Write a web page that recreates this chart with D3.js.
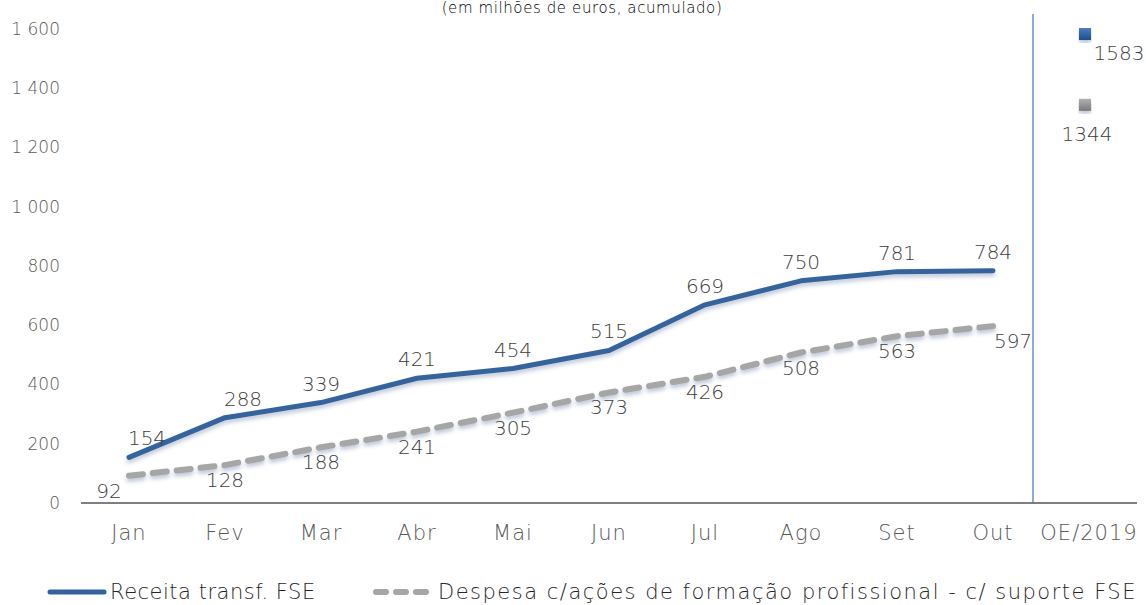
<!DOCTYPE html>
<html>
<head>
<meta charset="utf-8">
<script src="https://cdn.jsdelivr.net/npm/d3@7"></script>
<style>
  body { margin: 0; background: #fff; }
  svg { display: block; font-family: 'DejaVu Sans', sans-serif; }
</style>
</head>
<body>
<svg id="chart" width="1146" height="605"></svg>
<script>
const categories = ['Jan', 'Fev', 'Mar', 'Abr', 'Mai', 'Jun', 'Jul', 'Ago', 'Set', 'Out', 'OE/2019']
const months = categories.slice(0, 10)
const receita = [154, 288, 339, 421, 454, 515, 669, 750, 781, 784]
const despesa = [92, 128, 188, 241, 305, 373, 426, 508, 563, 597]
const budget = [
  { key: 'receita', value: 1583 },
  { key: 'despesa', value: 1344 }
]
const yTicks = [0, 200, 400, 600, 800, 1000, 1200, 1400, 1600]
const seriesNames = ['Receita transf. FSE', 'Despesa c/ações de formação profissional - c/ suporte FSE']

const width = 1146
const height = 605
const margin = { top: 29, right: 9, bottom: 102, left: 81 }
const blue = '#34639b'
const grey = '#a6a6a6'
const textColor = '#404040'

const svg = d3.select('#chart')

const x = d3.scaleBand()
  .domain(categories)
  .range([margin.left, width - margin.right])

const y = d3.scaleLinear()
  .domain([0, 1600])
  .range([height - margin.bottom, margin.top])

const cx = d => x(d) + x.bandwidth() / 2

// shadow under the lines
const defs = svg.append('defs')
const shadow = defs.append('filter').attr('id', 'shadow').attr('x', '-5%').attr('y', '-20%').attr('width', '110%').attr('height', '140%')
shadow.append('feDropShadow').attr('dx', 0).attr('dy', 3).attr('stdDeviation', 2).attr('flood-color', '#6a7fa8').attr('flood-opacity', 0.45)

// title
svg.append('text')
  .attr('x', 582)
  .attr('y', 13)
  .attr('text-anchor', 'middle')
  .attr('font-size', 15)
  .attr('font-weight', 300)
  .attr('letter-spacing', 0.6)
  .attr('fill', '#000')
  .text('(em milhões de euros, acumulado)')

// y axis labels
svg.append('g')
  .selectAll('text')
  .data(yTicks)
  .join('text')
  .attr('x', 60)
  .attr('y', d => y(d))
  .attr('dy', '0.35em')
  .attr('text-anchor', 'end')
  .attr('font-size', 17)
  .attr('font-weight', 300)
  .attr('fill', '#595959')
  .text(d => d3.format(',')(d).replace(',', ' '))

// x axis baseline
svg.append('line')
  .attr('x1', margin.left)
  .attr('x2', width - margin.right)
  .attr('y1', y(0))
  .attr('y2', y(0))
  .attr('stroke', '#000')
  .attr('stroke-width', 1.2)

svg.append('g')
  .selectAll('text')
  .data(categories)
  .join('text')
  .attr('x', d => cx(d))
  .attr('y', y(0) + 37)
  .attr('text-anchor', 'middle')
  .attr('font-size', 21)
  .attr('font-weight', 300)
  .attr('letter-spacing', 1)
  .attr('fill', '#595959')
  .text(d => d)

// separator before budget column
svg.append('line')
  .attr('x1', 1033)
  .attr('x2', 1033)
  .attr('y1', 14)
  .attr('y2', y(0))
  .attr('stroke', '#4472c4')
  .attr('stroke-width', 1.2)

const line = d3.line()
  .x((d, i) => cx(months[i]))
  .y(d => y(d))

svg.append('path')
  .datum(despesa)
  .attr('d', line)
  .attr('fill', 'none')
  .attr('stroke', grey)
  .attr('stroke-width', 6)
  .attr('stroke-dasharray', '14,10')
  .attr('stroke-linecap', 'round')
  .attr('filter', 'url(#shadow)')

svg.append('path')
  .datum(receita)
  .attr('d', line)
  .attr('fill', 'none')
  .attr('stroke', blue)
  .attr('stroke-width', 5)
  .attr('stroke-linecap', 'round')
  .attr('stroke-linejoin', 'round')
  .attr('filter', 'url(#shadow)')

// data labels
svg.append('g')
  .selectAll('text')
  .data(receita)
  .join('text')
  .attr('x', (d, i) => cx(months[i]) + (i < 2 ? 18 : 0))
  .attr('y', d => y(d) - 12)
  .attr('text-anchor', 'middle')
  .attr('font-size', 20)
  .attr('font-weight', 300)
  .attr('fill', textColor)
  .text(d => d)

svg.append('g')
  .selectAll('text')
  .data(despesa)
  .join('text')
  .attr('x', (d, i) => cx(months[i]) + (i === 0 ? -20 : i === 9 ? 20 : 0))
  .attr('y', d => y(d) + 22)
  .attr('text-anchor', 'middle')
  .attr('font-size', 20)
  .attr('font-weight', 300)
  .attr('fill', textColor)
  .text(d => d)

// budget markers
const bx = cx('OE/2019') - 4
const markerColor = { receita: ['#4a7cc0', '#1f4e8c'], despesa: ['#b0b0b0', '#7a7a7a'] }
budget.forEach(b => {
  const g = defs.append('linearGradient').attr('id', 'grad-' + b.key).attr('x1', 0).attr('y1', 0).attr('x2', 0).attr('y2', 1)
  g.append('stop').attr('offset', '0%').attr('stop-color', markerColor[b.key][0])
  g.append('stop').attr('offset', '100%').attr('stop-color', markerColor[b.key][1])
})

svg.append('g')
  .selectAll('rect')
  .data(budget)
  .join('rect')
  .attr('x', bx - 6)
  .attr('y', d => y(d.value) - 6)
  .attr('width', 12)
  .attr('height', 12)
  .attr('fill', d => `url(#grad-${d.key})`)
  .attr('filter', 'url(#shadow)')

svg.append('g')
  .selectAll('text')
  .data(budget)
  .join('text')
  .attr('x', (d, i) => i === 0 ? bx + 34 : bx + 2)
  .attr('y', (d, i) => y(d.value) + (i === 0 ? 26 : 36))
  .attr('text-anchor', 'middle')
  .attr('font-size', 20)
  .attr('font-weight', 300)
  .attr('fill', textColor)
  .text(d => d.value)

// legend
const legendY = 592
const legend = svg.append('g')
legend.append('line')
  .attr('x1', 50).attr('x2', 104)
  .attr('y1', legendY).attr('y2', legendY)
  .attr('stroke', blue).attr('stroke-width', 5).attr('stroke-linecap', 'round')
legend.append('text')
  .attr('x', 110).attr('y', legendY).attr('dy', '0.35em')
  .attr('font-size', 21).attr('font-weight', 300).attr('letter-spacing', 0.5).attr('fill', '#262626')
  .text(seriesNames[0])
legend.append('line')
  .attr('x1', 376).attr('x2', 430)
  .attr('y1', legendY).attr('y2', legendY)
  .attr('stroke', grey).attr('stroke-width', 6)
  .attr('stroke-dasharray', '10,10').attr('stroke-linecap', 'round')
legend.append('text')
  .attr('x', 438).attr('y', legendY).attr('dy', '0.35em')
  .attr('font-size', 21).attr('font-weight', 300).attr('letter-spacing', 1.5).attr('fill', '#262626')
  .text(seriesNames[1])
</script>
</body>
</html>
